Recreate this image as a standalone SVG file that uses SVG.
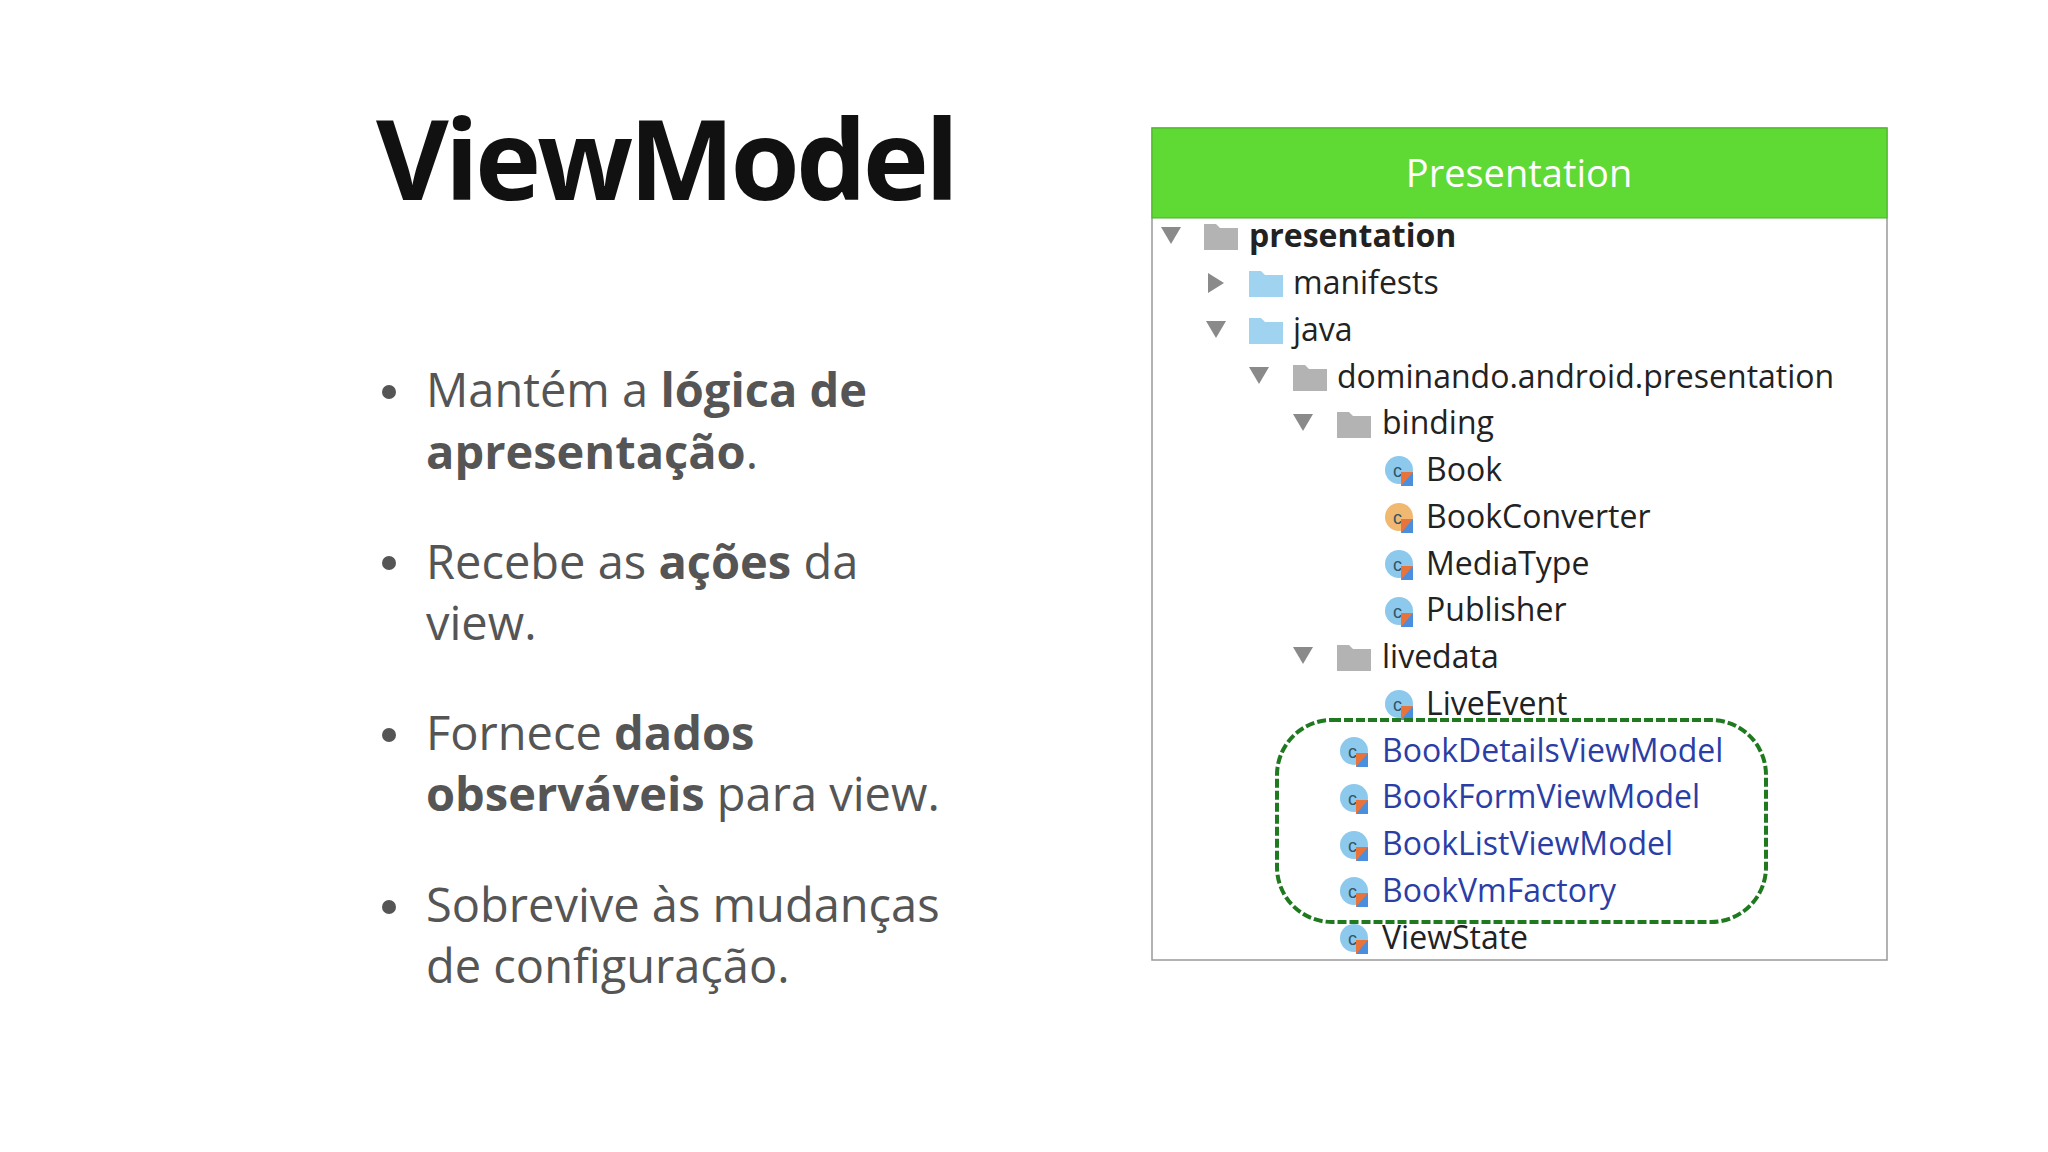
<svg xmlns="http://www.w3.org/2000/svg" width="2048" height="1152" viewBox="0 0 2048 1152">
<style>
.b{font-family:"Open Sans","Liberation Sans",sans-serif;font-size:47px;fill:#555}
.b tspan.k{font-weight:bold}
.t{font-family:"Open Sans","Liberation Sans",sans-serif;font-size:32px;fill:#222}
.v{fill:#2b3ea6}
.tri{fill:#8a8a8a}
.fb{fill:#9fd3ef}
.fg{fill:#b3b3b3}
.ci{fill:#8cc9ec}
</style>
<defs>
<g id="cls"><circle r="14" class="ci"/><text x="-6" y="7" font-family="Liberation Sans,sans-serif" font-size="18" fill="#356">c</text><path d="M2,2 L14,2 L14,16 L2,16 Z" fill="#e8743b"/><path d="M2,16 L14,2 L14,16 Z" fill="#4a8ee0"/></g>
<g id="fold"><path d="M0,-12 h12 l4,4 h18 v22 h-34 z"/></g>
</defs>
<rect width="2048" height="1152" fill="#fff"/>
<text x="376" y="200" font-family="Open Sans,Liberation Sans,sans-serif" font-weight="bold" font-size="112" fill="#111" letter-spacing="-4">ViewModel</text>
<g id="bullets">
<circle cx="389" cy="392" r="7" fill="#555"/><circle cx="389" cy="563" r="7" fill="#555"/><circle cx="389" cy="735" r="7" fill="#555"/><circle cx="389" cy="907" r="7" fill="#555"/>
<text class="b" x="426" y="407">Mantém a <tspan class="k">lógica de</tspan></text>
<text class="b" x="426" y="469"><tspan class="k">apresentação</tspan>.</text>
<text class="b" x="426" y="579">Recebe as <tspan class="k">ações</tspan> da</text>
<text class="b" x="426" y="640">view.</text>
<text class="b" x="426" y="750">Fornece <tspan class="k">dados</tspan></text>
<text class="b" x="426" y="811"><tspan class="k">observáveis</tspan> para view.</text>
<text class="b" x="426" y="922">Sobrevive às mudanças</text>
<text class="b" x="426" y="983">de configuração.</text>
</g>
<g id="panel">
<rect x="1152" y="128" width="735" height="832" fill="#fff" stroke="#999" stroke-width="1.5"/>
<rect x="1152" y="128" width="735" height="90" fill="#5fd934" stroke="#4cb02a"/>
<text x="1519" y="187" text-anchor="middle" font-family="Open Sans,Liberation Sans,sans-serif" font-size="38" fill="#fff">Presentation</text>
</g>
<g id="tree">
<path class="tri" d="M1161,227 h20 l-10,17 z"/><use href="#fold" x="1204" y="236" class="fg"/>
<text class="t" x="1249" y="247" font-weight="bold">presentation</text>
<path class="tri" d="M1208,273 v20 l16,-10 z"/><use href="#fold" x="1249" y="283" class="fb"/>
<text class="t" x="1293" y="294">manifests</text>
<path class="tri" d="M1206,321 h20 l-10,17 z"/><use href="#fold" x="1249" y="330" class="fb"/>
<text class="t" x="1293" y="341">java</text>
<path class="tri" d="M1249,367 h20 l-10,17 z"/><use href="#fold" x="1293" y="377" class="fg"/>
<text class="t" x="1337" y="388">dominando.android.presentation</text>
<path class="tri" d="M1293,414 h20 l-10,17 z"/><use href="#fold" x="1337" y="424" class="fg"/>
<text class="t" x="1382" y="434">binding</text>
<use href="#cls" x="1399" y="470"/><text class="t" x="1426" y="481">Book</text>
<circle cx="1399" cy="517" r="14" fill="#f0b870"/><text x="1393" y="524" font-family="Liberation Sans,sans-serif" font-size="18" fill="#356">c</text><path d="M1401,519 h12 v14 h-12 z" fill="#e8743b"/><path d="M1401,533 L1413,519 V533 Z" fill="#4a8ee0"/><text class="t" x="1426" y="528">BookConverter</text>
<use href="#cls" x="1399" y="564"/><text class="t" x="1426" y="575">MediaType</text>
<use href="#cls" x="1399" y="611"/><text class="t" x="1426" y="621">Publisher</text>
<path class="tri" d="M1293,647 h20 l-10,17 z"/><use href="#fold" x="1337" y="657" class="fg"/>
<text class="t" x="1382" y="668">livedata</text>
<use href="#cls" x="1399" y="704"/><text class="t" x="1426" y="715">LiveEvent</text>
<use href="#cls" x="1354" y="751"/><text class="t v" x="1382" y="762">BookDetailsViewModel</text>
<use href="#cls" x="1354" y="798"/><text class="t v" x="1382" y="808">BookFormViewModel</text>
<use href="#cls" x="1354" y="845"/><text class="t v" x="1382" y="855">BookListViewModel</text>
<use href="#cls" x="1354" y="891"/><text class="t v" x="1382" y="902">BookVmFactory</text>
<use href="#cls" x="1354" y="938"/><text class="t" x="1382" y="949">ViewState</text>
</g>
<g id="connectors">
<rect x="1277" y="720" width="489" height="202" rx="55" fill="none" stroke="#1f7a1f" stroke-width="4" stroke-dasharray="9,3"/>
</g>
</svg>
